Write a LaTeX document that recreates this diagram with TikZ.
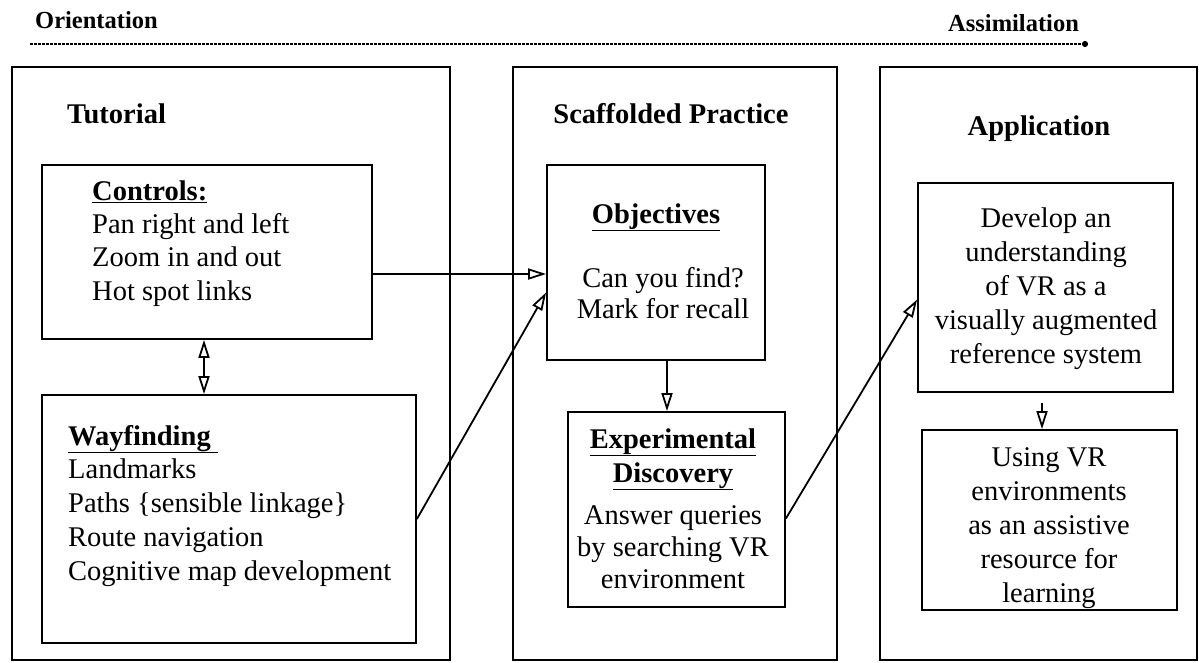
\documentclass[tikz,border=0pt]{standalone}
\usepackage{fontspec}
\setmainfont{Liberation Serif}
\usetikzlibrary{positioning, arrows.meta, fit, calc}

\tikzset{
    stage/.style={draw, line width=1.8pt, inner sep=0pt},
    card/.style={draw, line width=1.8pt, inner sep=0pt},
    body/.style={font=\fontsize{28.5}{34}\selectfont, inner sep=0pt},
    head/.style={font=\fontsize{28.5}{34}\selectfont\bfseries, inner sep=0pt},
    phase/.style={font=\fontsize{24.5}{28}\selectfont\bfseries, inner sep=0pt},
    link/.style={line width=1.8pt, -{Triangle[open, length=18pt, width=11pt]}},
    twoway/.style={line width=1.8pt, {Triangle[open, length=18pt, width=11pt]}-{Triangle[open, length=18pt, width=11pt]}},
}

\begin{document}
\begin{tikzpicture}[x=1pt, y=-1pt]
    \useasboundingbox (0,0) rectangle (1199,662);

    % time line on top
    \node[phase, anchor=base west] (orient) at (35,28) {Orientation};
    \node[phase, anchor=base west] (assim) at (948,31) {Assimilation};
    \coordinate (TS) at (30,44);
    \coordinate (TE) at (1088,44);
    \draw[line width=1.8pt, dash pattern=on 2.5pt off 1.5pt, -{Circle[length=6pt]}] (TS) -- (TE);

    % three stages
    \node[stage, fit={(12,67) (450,660)}] (tut) {};
    \node[stage, fit={(513,67) (837,660)}] (scaf) {};
    \node[stage, fit={(880,67) (1197,660)}] (appl) {};

    \node[head, anchor=base west] (tuthd) at (67,123) {Tutorial};
    \node[head, anchor=base] (scafhd) at (671,123) {Scaffolded Practice};
    \node[head, anchor=base] (applhd) at (1039,135) {Application};

    % inner boxes
    \node[card, fit={(42,165) (372,339)}] (ctrl) {};
    \node[card, fit={(42,395) (416,643)}] (way) {};
    \node[card, fit={(547,165) (765,360)}] (obj) {};
    \node[card, fit={(568,412) (785,607)}] (exp) {};
    \node[card, fit={(918,183) (1173,392)}] (dev) {};
    \node[card, fit={(922,430) (1177,610)}] (use) {};

    % texts (base = last line)
    \node[head, anchor=base west] (ctrlhd) at (92,200) {\underline{Controls:}};
    \node[body, anchor=base west, align=left, font=\fontsize{28.5}{33.5}\selectfont] (ctrltx) at (92,300)
        {Pan right and left\\Zoom in and out\\Hot spot links};

    \node[head, anchor=base west] (wayhd) at (68,445) {\underline{Wayfinding\ }};
    \node[body, anchor=base west, align=left] (waytx) at (68,580)
        {Landmarks\\Paths \{sensible linkage\}\\Route navigation\\Cognitive map development};

    \node[head, anchor=base] (objhd) at (656,223) {\underline{Objectives}};
    \node[body, anchor=base, align=center, font=\fontsize{28.5}{31}\selectfont] (objtx) at (663,318)
        {Can you find?\\Mark for recall};

    \node[head, anchor=base, align=center] (exphd) at (673,482)
        {\underline{Experimental}\\\underline{Discovery}};
    \node[body, anchor=base, align=center, font=\fontsize{28.5}{32}\selectfont] (exptx) at (673,588)
        {Answer queries\\by searching VR\\environment};

    \node[body, anchor=base, align=center] (devtx) at (1046,363)
        {Develop an\\understanding\\of VR as a\\visually augmented\\reference system};
    \node[body, anchor=base, align=center] (usetx) at (1049,602)
        {Using VR\\environments\\as an assistive\\resource for\\learning};

    % connectors
    \draw[twoway] (ctrl.south -| 204,0) -- (way.north -| 204,0);
    \draw[link] ([yshift=-22pt]ctrl.east) -- ([yshift=-22pt]ctrl.east -| obj.west);
    \draw[link] (way.east) -- ([yshift=-30pt]obj.west);
    \draw[link] (obj.south -| 667,0) -- (exp.north -| 667,0);
    \draw[link] ([yshift=-9pt]exp.east) -- ([yshift=-12pt]dev.west);
    \draw[link, shorten <=10pt] (dev.south -| 1042,0) -- (use.north -| 1042,0);
\end{tikzpicture}
\end{document}
